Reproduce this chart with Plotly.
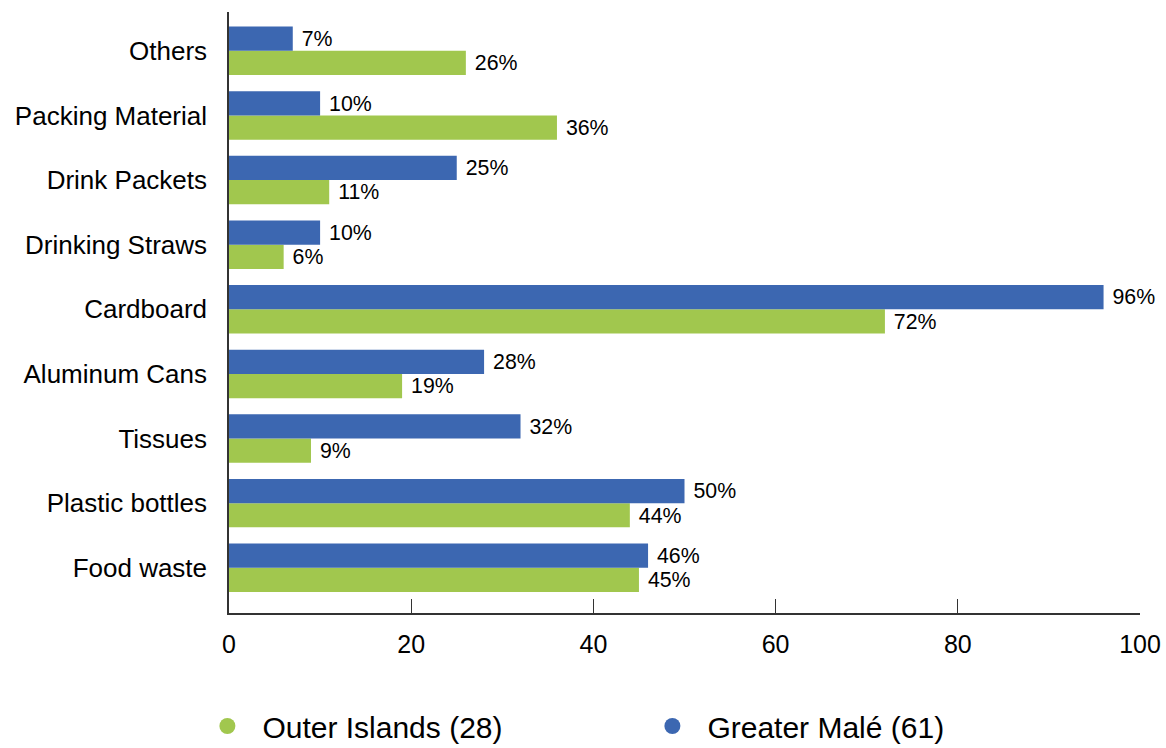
import plotly.graph_objects as go

categories = ["Food waste", "Plastic bottles", "Tissues", "Aluminum Cans", "Cardboard",
              "Drinking Straws", "Drink Packets", "Packing Material", "Others"]
greater_male = [46, 50, 32, 28, 96, 10, 25, 10, 7]
outer_islands = [45, 44, 9, 19, 72, 6, 11, 36, 26]
series_names = ["Outer Islands (28)", "Greater Malé (61)"]
x_ticks = [0, 20, 40, 60, 80, 100]

GREEN = "#A1C74E"
BLUE = "#3C67B1"
FONT = "Liberation Sans, Arial, sans-serif"

fig = go.Figure()
for name, vals, col in [(series_names[0], outer_islands, GREEN), (series_names[1], greater_male, BLUE)]:
    fig.add_trace(go.Bar(
        y=categories, x=vals, orientation="h", name=name,
        marker=dict(color=col, line=dict(width=0)),
        texttemplate=" %{x}%", textposition="outside",
        textfont=dict(size=22, color="black", family=FONT),
        cliponaxis=False, showlegend=False,
    ))
    fig.add_trace(go.Scatter(
        x=[None], y=[None], mode="markers", name=name,
        marker=dict(symbol="circle", size=24, color=col),
    ))

fig.update_layout(
    width=1166, height=748,
    plot_bgcolor="white", paper_bgcolor="white",
    barmode="group", bargap=0.25, bargroupgap=0.0,
    margin=dict(l=229, r=26, t=12, b=135, autoexpand=False),
    font=dict(family=FONT, color="black"),
    xaxis=dict(range=[0, 100], tickvals=x_ticks, showgrid=False, zeroline=False,
               showline=True, linecolor="#333", linewidth=1.5,
               ticks="inside", ticklen=14, tickcolor="#333", tickwidth=1,
               tickfont=dict(size=25), ticklabelstandoff=8, automargin=False),
    yaxis=dict(range=[-0.7, 8.6], showgrid=False, zeroline=False,
               showline=True, linecolor="#333", linewidth=1.5,
               ticks="", tickfont=dict(size=26), ticklabelstandoff=15, automargin=False),
    legend=dict(orientation="h", x=0.165, xref="container", xanchor="left",
                y=-0.188, yref="paper", yanchor="middle",
                font=dict(size=30), entrywidth=370, entrywidthmode="pixels",
                itemwidth=60, traceorder="normal", borderwidth=0),
)

fig.write_html("out.html", config={"displayModeBar": False},
               post_script="document.body.style.margin='0';document.body.style.overflow='hidden';")
